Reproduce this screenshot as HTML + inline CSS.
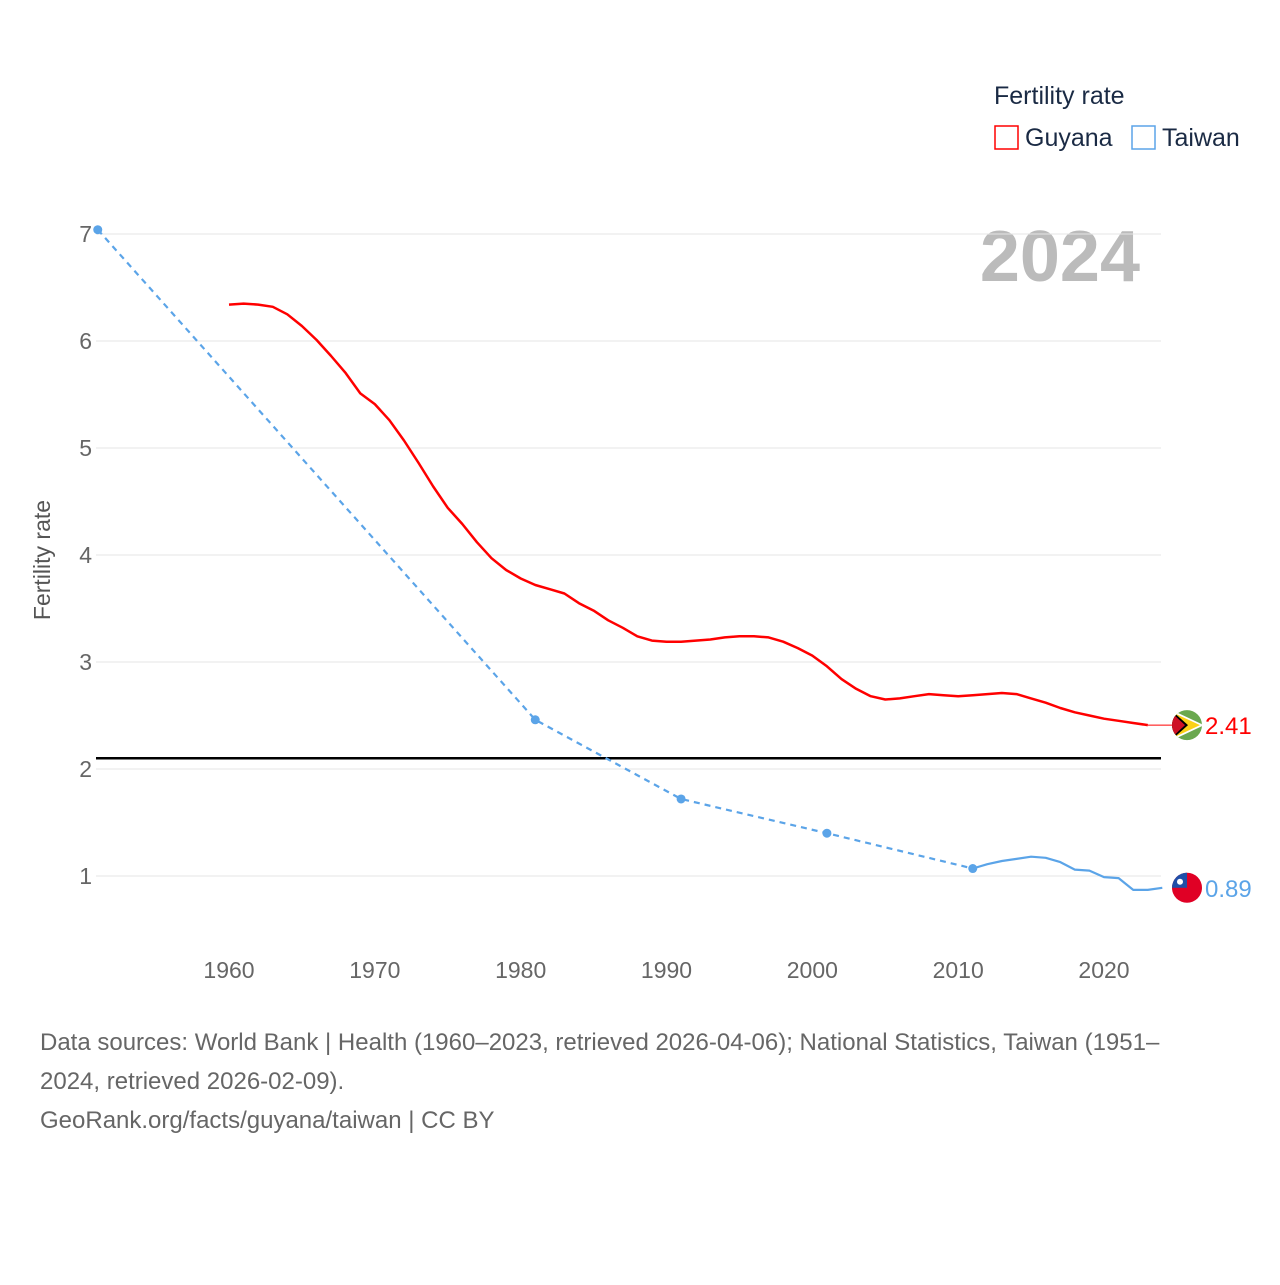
<!DOCTYPE html>
<html><head><meta charset="utf-8"><style>
body{margin:0;background:#fff;font-family:"Liberation Sans",sans-serif}
svg text{font-family:"Liberation Sans",sans-serif}
</style></head><body>
<svg id="chart" width="1280" height="1280" viewBox="0 0 1280 1280">
<text x="994" y="104" font-size="25" fill="#1a2a44">Fertility rate</text>
<rect x="995" y="126" width="23" height="23" fill="none" stroke="#f00" stroke-width="1.5"/>
<text x="1025" y="146" font-size="25" fill="#1a2a44">Guyana</text>
<rect x="1132" y="126" width="23" height="23" fill="none" stroke="#5ba4e8" stroke-width="1.5"/>
<text x="1162" y="146" font-size="25" fill="#1a2a44">Taiwan</text>
<text x="1140" y="281" font-size="72" font-weight="bold" fill="#bbb" text-anchor="end">2024</text>
<text transform="translate(50,560) rotate(-90)" font-size="23" fill="#555" text-anchor="middle">Fertility rate</text>
<g id="grid"></g><g id="series"></g>
<text x="40" y="1050" font-size="24" fill="#666">Data sources: World Bank | Health (1960–2023, retrieved 2026-04-06); National Statistics, Taiwan (1951–</text>
<text x="40" y="1089" font-size="24" fill="#666">2024, retrieved 2026-02-09).</text>
<text x="40" y="1128" font-size="24" fill="#666">GeoRank.org/facts/guyana/taiwan | CC BY</text>
</svg>
<script>
const yTicks=[1,2,3,4,5,6,7];
const xTicks=[1960,1970,1980,1990,2000,2010,2020];
const guyanaYears=[1960,1961,1962,1963,1964,1965,1966,1967,1968,1969,1970,1971,1972,1973,1974,1975,1976,1977,1978,1979,1980,1981,1982,1983,1984,1985,1986,1987,1988,1989,1990,1991,1992,1993,1994,1995,1996,1997,1998,1999,2000,2001,2002,2003,2004,2005,2006,2007,2008,2009,2010,2011,2012,2013,2014,2015,2016,2017,2018,2019,2020,2021,2022,2023];
const guyanaValues=[6.34,6.35,6.34,6.32,6.25,6.14,6.01,5.86,5.70,5.51,5.41,5.26,5.07,4.86,4.64,4.44,4.29,4.12,3.97,3.86,3.78,3.72,3.68,3.64,3.55,3.48,3.39,3.32,3.24,3.20,3.19,3.19,3.20,3.21,3.23,3.24,3.24,3.23,3.19,3.13,3.06,2.96,2.84,2.75,2.68,2.65,2.66,2.68,2.70,2.69,2.68,2.69,2.70,2.71,2.70,2.66,2.62,2.57,2.53,2.50,2.47,2.45,2.43,2.41];
const taiwanSparseYears=[1951,1981,1991,2001,2011];
const taiwanSparseValues=[7.04,2.46,1.72,1.40,1.07];
const taiwanYears=[2011,2012,2013,2014,2015,2016,2017,2018,2019,2020,2021,2022,2023,2024];
const taiwanValues=[1.07,1.11,1.14,1.16,1.18,1.17,1.13,1.06,1.05,0.99,0.98,0.87,0.87,0.89];
const refValue=2.1;
const NS='http://www.w3.org/2000/svg';
const X=yr=>229+(yr-1960)*(875/60);
const Y=v=>983-v*107;
const x0=96,x1=1161;
function mk(tag,attrs,parent){const e=document.createElementNS(NS,tag);for(const k in attrs)e.setAttribute(k,attrs[k]);parent.appendChild(e);return e;}
const grid=document.getElementById('grid'),ser=document.getElementById('series');
yTicks.forEach(t=>{
 const l=mk('line',{x1:x0,x2:x1,y1:Y(t),y2:Y(t),stroke:'#e6e6e6','stroke-width':1},grid);
 
 
 const tx=mk('text',{x:92,y:Y(t)+8,'font-size':23,fill:'#666','text-anchor':'end'},grid);tx.textContent=t;
 
 
});
xTicks.forEach(t=>{
 const tx=mk('text',{x:X(t),y:978,'font-size':23,fill:'#666','text-anchor':'middle'},grid);tx.textContent=t;
 
 
});
const ref=mk('line',{x1:x0,x2:x1,y1:Y(refValue),y2:Y(refValue),stroke:'#000','stroke-width':2.5},grid);


const pts=(ys,vs)=>ys.map((y,i)=>X(y).toFixed(1)+','+Y(vs[i]).toFixed(1)).join(' ');
const g=mk('polyline',{points:pts(guyanaYears,guyanaValues),fill:'none',stroke:'#f00','stroke-width':2.5,'stroke-linejoin':'round'},ser);


const gl=guyanaValues[guyanaValues.length-1];
const gc=mk('line',{x1:X(2023),x2:1175,y1:Y(gl),y2:Y(gl),stroke:'#f00','stroke-width':1},ser);


const td=mk('polyline',{points:pts(taiwanSparseYears,taiwanSparseValues),fill:'none',stroke:'#5ba4e8','stroke-width':2.2,'stroke-dasharray':'6,5'},ser);


taiwanSparseYears.forEach((y,i)=>{
 const c=mk('circle',{cx:X(y),cy:Y(taiwanSparseValues[i]),r:4.5,fill:'#5ba4e8'},ser);
 
 
});
const ts=mk('polyline',{points:pts(taiwanYears,taiwanValues),fill:'none',stroke:'#5ba4e8','stroke-width':2.2,'stroke-linejoin':'round'},ser);


const tl=taiwanValues[taiwanValues.length-1];
// flags
const gy=Y(gl),ty=Y(tl);
const gf=mk('g',{},ser);


gf.innerHTML=`<clipPath id="cg"><circle cx="1187" cy="${gy}" r="15"/></clipPath><g clip-path="url(#cg)"><rect x="1170" y="${gy-16}" width="34" height="32" fill="#6aa84f"/><polygon points="1170,${gy-16} 1204,${gy} 1170,${gy+16}" fill="#fff"/><polygon points="1170,${gy-14} 1200,${gy} 1170,${gy+14}" fill="#fcd116"/><polygon points="1170,${gy-16} 1188,${gy} 1170,${gy+16}" fill="#000"/><polygon points="1170,${gy-14} 1185,${gy} 1170,${gy+14}" fill="#ce1126"/></g>`;
const tf=mk('g',{},ser);


tf.innerHTML=`<clipPath id="ct"><circle cx="1187" cy="${ty}" r="15"/></clipPath><g clip-path="url(#ct)"><rect x="1170" y="${ty-16}" width="34" height="32" fill="#e00025"/><rect x="1170" y="${ty-16}" width="17" height="16" fill="#1f4ea8"/><circle cx="1180" cy="${ty-6}" r="3" fill="#fff"/></g>`;
const gt=mk('text',{x:1205,y:gy+9,'font-size':24,fill:'#f00'},ser);gt.textContent=gl.toFixed(2);


const tt=mk('text',{x:1205,y:ty+9,'font-size':24,fill:'#5ba4e8'},ser);tt.textContent=tl.toFixed(2);


</script>
</body></html>
